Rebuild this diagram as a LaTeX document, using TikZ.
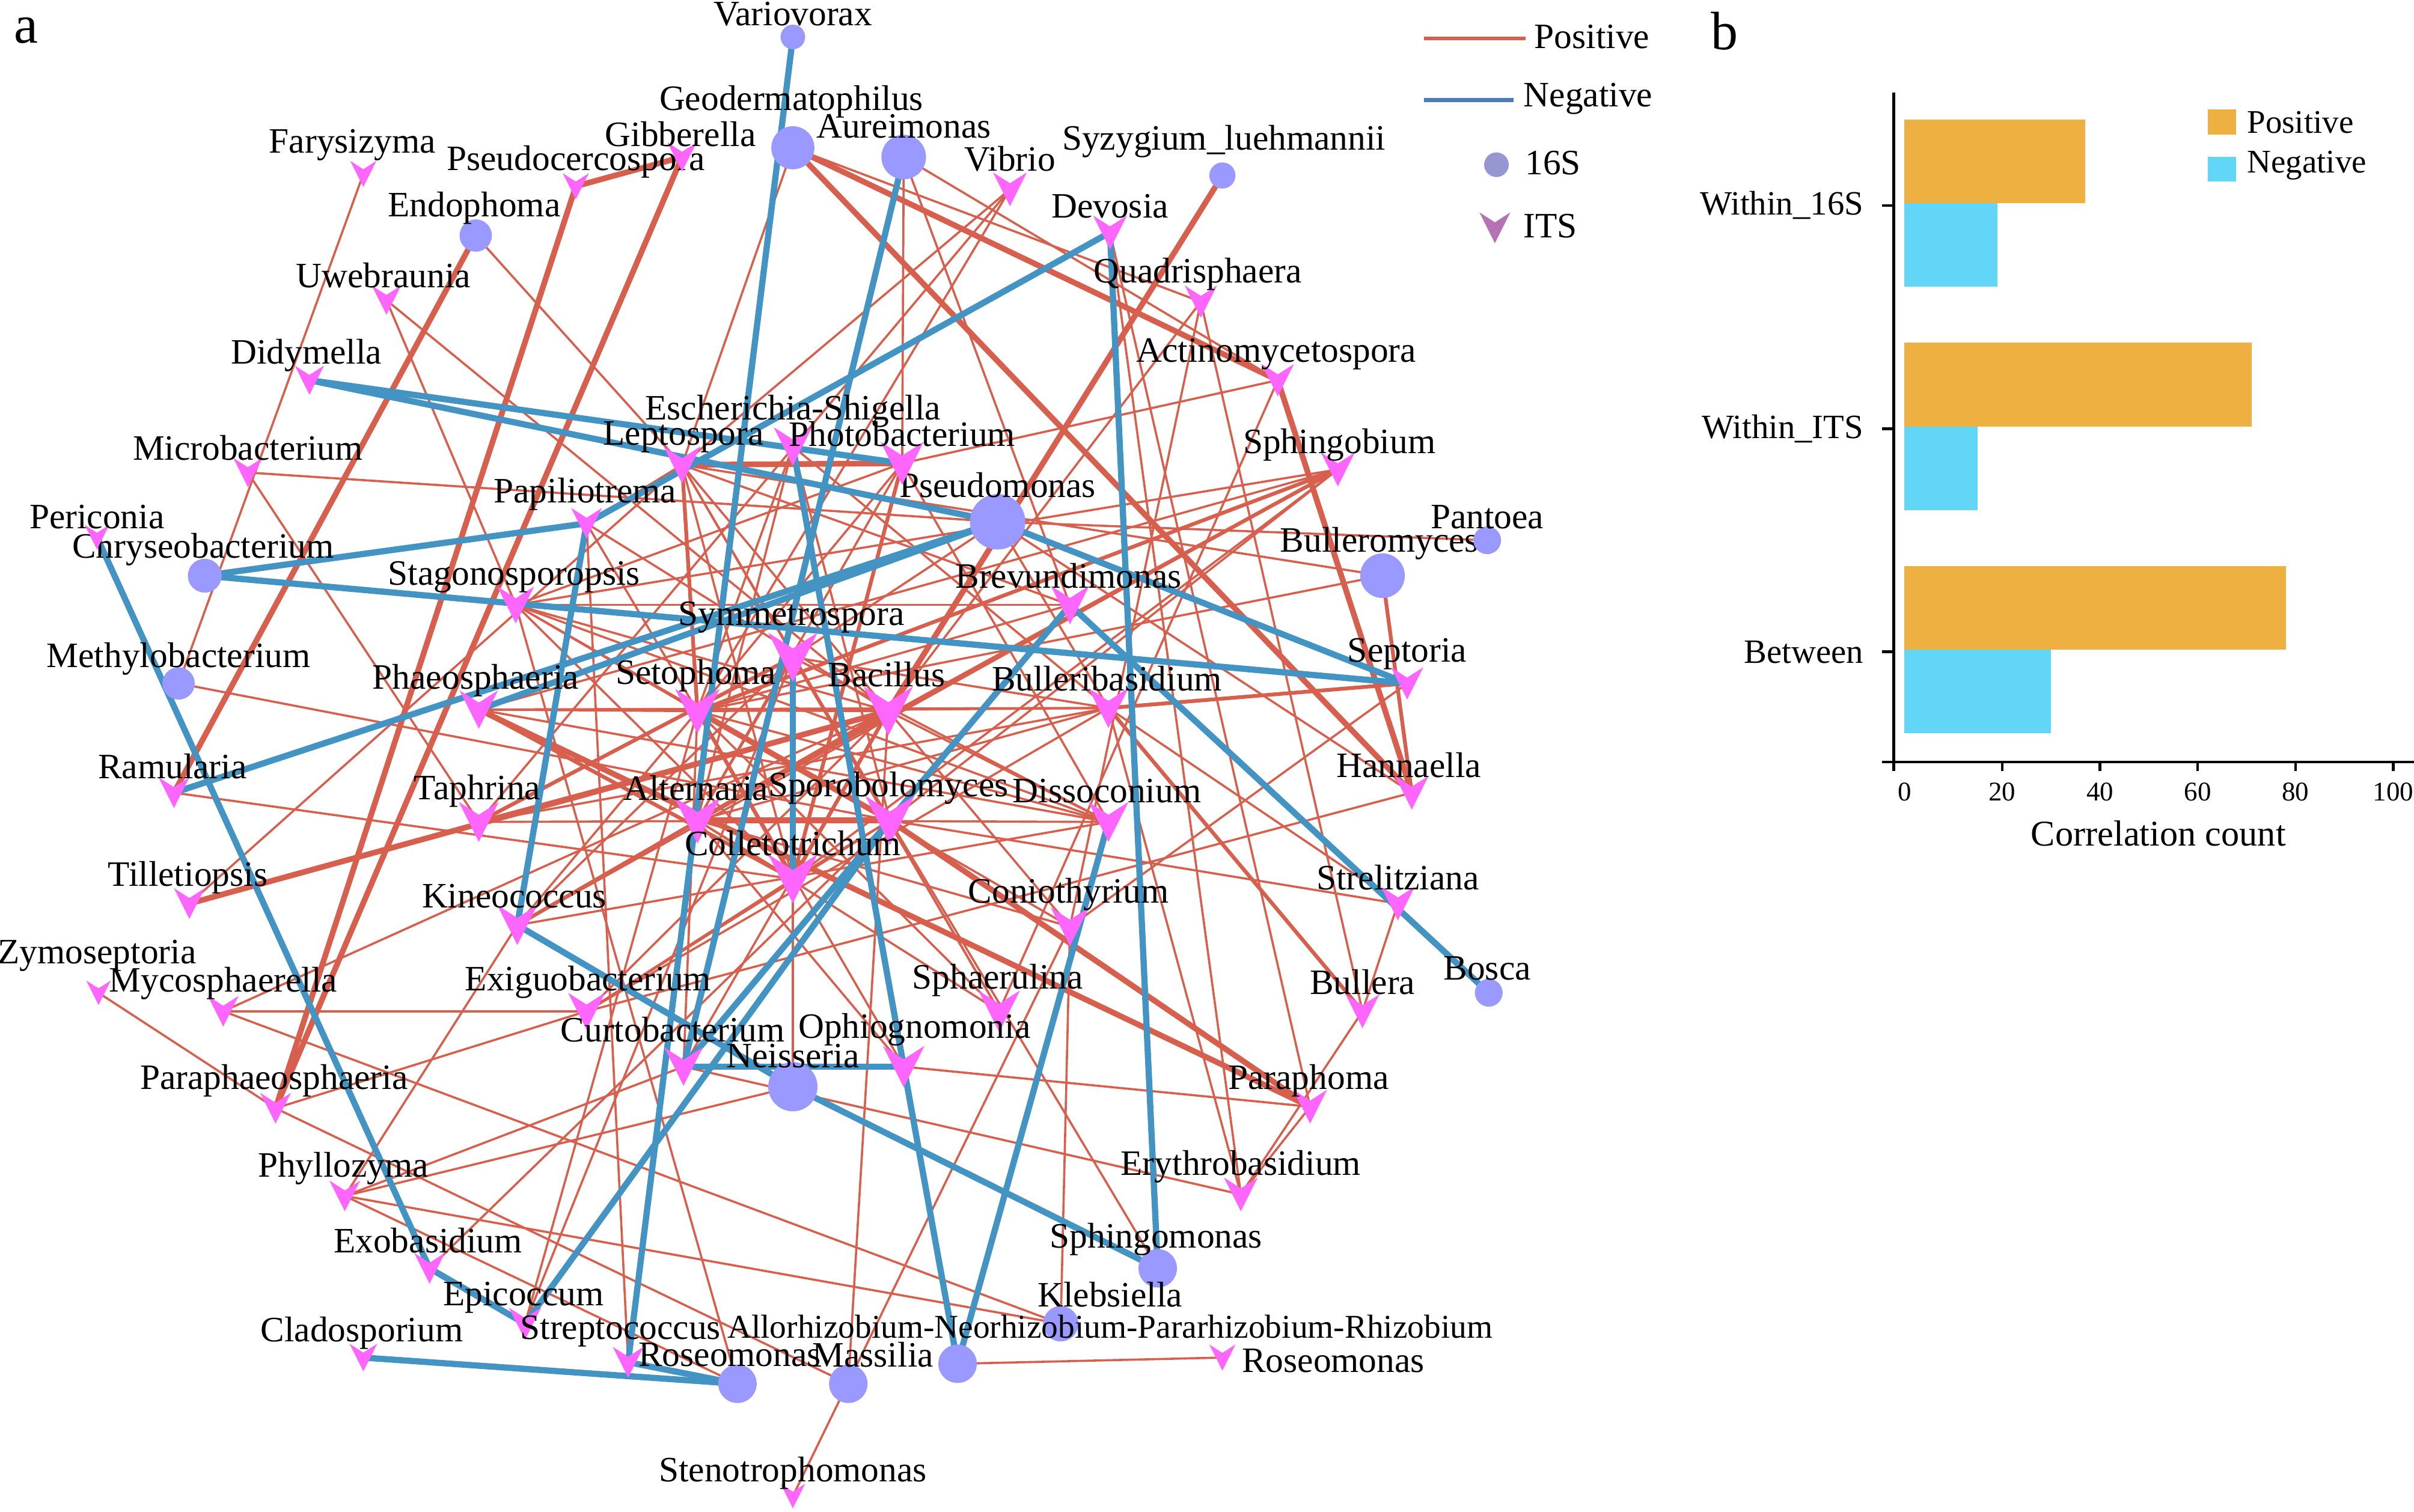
\documentclass[tikz,border=0pt]{standalone}
\usepackage{fontspec}
\setmainfont{Liberation Serif}
\usetikzlibrary{calc}
\definecolor{posred}{RGB}{214,96,77}
\definecolor{negblue}{RGB}{67,147,195}
\definecolor{bacfill}{RGB}{153,153,255}
\definecolor{funpink}{RGB}{255,102,255}
\definecolor{legbac}{RGB}{150,150,210}
\definecolor{legfun}{RGB}{180,115,180}
\definecolor{legneg}{RGB}{74,126,187}
\definecolor{barpos}{RGB}{239,176,66}
\definecolor{barneg}{RGB}{98,214,246}
\pgfdeclarelayer{edges}
\pgfsetlayers{edges,main}
\tikzset{
  vmark/.style 2 args={inner sep=0pt, minimum size={#1*0.1mm}, path picture={
    \fill[#2] (path picture bounding box.north west)
      -- ($(path picture bounding box.north)!0.32!(path picture bounding box.south)$)
      -- (path picture bounding box.north east)
      -- (path picture bounding box.south) -- cycle;}},
  fun/.style={vmark={#1}{funpink}},
  bac/.style={circle, fill=bacfill, inner sep=0pt, minimum size={#1*0.1mm}},
  lab/.style={inner sep=0pt, font=\fontsize{6.6}{7}\selectfont},
  poslink/.style={draw=posred, line width=0.4pt},
  posmid/.style={draw=posred, line width=0.7pt},
  posthick/.style={draw=posred, line width=1.05pt},
  neglink/.style={draw=negblue, line width=1.15pt},
}
\begin{document}
\begin{tikzpicture}[x=0.1mm, y=-0.1mm]
    \useasboundingbox (0,0) rectangle (1568,982);
    \node[font=\fontsize{10}{12}\selectfont] (panel-a) at (17,20) {a};
    \node[font=\fontsize{10}{12}\selectfont] (panel-b) at (1120,20) {b};

    % 16S genera
    \node[bac=16] (Variovorax) at (515,24) {};         \node[lab] (Variovorax-l) at (515,9) {Variovorax};
    \node[bac=28] (Geoder) at (515,96) {};              \node[lab] (Geoder-l) at (514,66) {Geodermatophilus};
    \node[bac=29] (Aureimonas) at (587,102) {};         \node[lab] (Aureimonas-l) at (587,82) {Aureimonas};
    \node[bac=17] (Syzygium) at (794,114) {};           \node[lab] (Syzygium-l) at (795,92) {Syzygium\_luehmannii};
    \node[bac=21] (Endophoma) at (309,153) {};          \node[lab] (Endophoma-l) at (308,135) {Endophoma};
    \node[bac=36] (Pseudomonas) at (648,339) {};        \node[lab] (Pseudomonas-l) at (648,315) {Pseudomonas};
    \node[bac=22] (Chryseo) at (133,374) {};            \node[lab] (Chryseo-l) at (132,357) {Chryseobacterium};
    \node[bac=21] (Methylo) at (116,444) {};            \node[lab] (Methylo-l) at (116,428) {Methylobacterium};
    \node[bac=29] (Bulleromyces) at (898,374) {};       \node[lab] (Bulleromyces-l) at (896,353) {Bulleromyces};
    \node[bac=18] (Pantoea) at (966,351) {};            \node[lab] (Pantoea-l) at (966,336) {Pantoea};
    \node[bac=18] (Bosca) at (967,645) {};              \node[lab] (Bosca-l) at (966,629) {Bosca};
    \node[bac=32] (Neisseria) at (515,706) {};          \node[lab] (Neisseria-l) at (515,686) {Neisseria};
    \node[bac=25] (Sphingomonas) at (752,824) {};       \node[lab] (Sphingomonas-l) at (751,805) {Sphingomonas};
    \node[bac=23] (Klebsiella) at (689,860) {};         \node[lab] (Klebsiella-l) at (721,841) {Klebsiella};
    \node[bac=25] (Allo) at (622,886) {};               \node[lab, font=\fontsize{6.15}{7}\selectfont] (Allo-l) at (721,862) {Allorhizobium-Neorhizobium-Pararhizobium-Rhizobium};
    \node[bac=25] (Massilia) at (551,899) {};           \node[lab] (Massilia-l) at (567,880) {Massilia};
    \node[bac=25] (RoseA) at (479,899) {};              \node[lab] (RoseA-l) at (474,880) {Roseomonas};

    % ITS genera
    \node[fun=17] (Farysizyma) at (236,113) {};         \node[lab] (Farysizyma-l) at (229,94) {Farysizyma};
    \node[fun=17] (Pseudocerc) at (374,121) {};         \node[lab] (Pseudocerc-l) at (374,105) {Pseudocercospora};
    \node[fun=19] (Gibberella) at (443,102) {};         \node[lab] (Gibberella-l) at (442,87) {Gibberella};
    \node[fun=22] (Vibrio) at (656,123) {};             \node[lab] (Vibrio-l) at (656,103) {Vibrio};
    \node[fun=22] (Devosia) at (721,151) {};            \node[lab] (Devosia-l) at (721,134) {Devosia};
    \node[fun=19] (Uwebraunia) at (251,195) {};         \node[lab] (Uwebraunia-l) at (249,179) {Uwebraunia};
    \node[fun=21] (Quadrisphaera) at (780,196) {};      \node[lab] (Quadrisphaera-l) at (778,178) {Quadrisphaera};
    \node[fun=19] (Didymella) at (201,247) {};          \node[lab] (Didymella-l) at (199,231) {Didymella};
    \node[fun=21] (Actino) at (830,247) {};             \node[lab] (Actino-l) at (829,230) {Actinomycetospora};
    \node[fun=25] (Esch) at (515,290) {};               \node[lab] (Esch-l) at (515,267) {Escherichia-Shigella};
    \node[fun=24] (Leptospora) at (443,302) {};         \node[lab] (Leptospora-l) at (444,284) {Leptospora};
    \node[fun=28] (Photobacterium) at (586,301) {};     \node[lab] (Photobacterium-l) at (586,282) {Photobacterium};
    \node[fun=19] (Microbacterium) at (161,307) {};     \node[lab] (Microbacterium-l) at (161,291) {Microbacterium};
    \node[fun=22] (Sphingobium) at (869,305) {};        \node[lab] (Sphingobium-l) at (870,289) {Sphingobium};
    \node[fun=20] (Papiliotrema) at (381,340) {};       \node[lab] (Papiliotrema-l) at (380,321) {Papiliotrema};
    \node[fun=16] (Periconia) at (63,349) {};           \node[lab] (Periconia-l) at (63,336) {Periconia};
    \node[fun=24] (Stagono) at (335,393) {};            \node[lab] (Stagono-l) at (334,375) {Stagonosporopsis};
    \node[fun=25] (Brevundimonas) at (695,393) {};      \node[lab] (Brevundimonas-l) at (694,374) {Brevundimonas};
    \node[fun=32] (Symmetrospora) at (515,427) {};      \node[lab] (Symmetrospora-l) at (514,401) {Symmetrospora};
    \node[fun=29] (Setophoma) at (453,462) {};          \node[lab] (Setophoma-l) at (452,439) {Setophoma};
    \node[fun=32] (Bacillus) at (577,462) {};           \node[lab] (Bacillus-l) at (576,438) {Bacillus};
    \node[fun=26] (Bulleribasidium) at (720,460) {};    \node[lab] (Bulleribasidium-l) at (719,441) {Bulleribasidium};
    \node[fun=25] (Phaeosphaeria) at (311,461) {};      \node[lab] (Phaeosphaeria-l) at (309,442) {Phaeosphaeria};
    \node[fun=21] (Septoria) at (914,444) {};           \node[lab] (Septoria-l) at (914,425) {Septoria};
    \node[fun=20] (Ramularia) at (113,515) {};          \node[lab] (Ramularia-l) at (112,498) {Ramularia};
    \node[fun=22] (Hannaella) at (917,515) {};          \node[lab] (Hannaella-l) at (915,497) {Hannaella};
    \node[fun=26] (Taphrina) at (311,534) {};           \node[lab] (Taphrina-l) at (310,514) {Taphrina};
    \node[fun=30] (Alternaria) at (453,533) {};         \node[lab] (Alternaria-l) at (452,512) {Alternaria};
    \node[fun=32] (Sporobolomyces) at (578,533) {};     \node[lab] (Sporobolomyces-l) at (577,512) {Sporobolomyces};
    \node[fun=26] (Dissoconium) at (720,534) {};        \node[lab] (Dissoconium-l) at (719,514) {Dissoconium};
    \node[fun=32] (Colletotrichum) at (515,571) {};     \node[lab] (Colletotrichum-l) at (515,548) {Colletotrichum};
    \node[fun=20] (Tilletiopsis) at (123,587) {};       \node[lab] (Tilletiopsis-l) at (122,570) {Tilletiopsis};
    \node[fun=22] (Strelitziana) at (908,587) {};       \node[lab] (Strelitziana-l) at (908,570) {Strelitziana};
    \node[fun=26] (Kineococcus) at (336,601) {};        \node[lab] (Kineococcus-l) at (334,582) {Kineococcus};
    \node[fun=25] (Coniothyrium) at (695,602) {};       \node[lab] (Coniothyrium-l) at (694,581) {Coniothyrium};
    \node[fun=16] (Zymoseptoria) at (64,645) {};        \node[lab] (Zymoseptoria-l) at (63,621) {Zymoseptoria};
    \node[fun=20] (Mycosphaerella) at (145,657) {};     \node[lab] (Mycosphaerella-l) at (145,639) {Mycosphaerella};
    \node[fun=24] (Exiguobacterium) at (381,657) {};    \node[lab] (Exiguobacterium-l) at (382,638) {Exiguobacterium};
    \node[fun=27] (Sphaerulina) at (649,657) {};        \node[lab] (Sphaerulina-l) at (648,637) {Sphaerulina};
    \node[fun=22] (Bullera) at (885,657) {};            \node[lab] (Bullera-l) at (885,638) {Bullera};
    \node[fun=25] (Curtobacterium) at (444,693) {};     \node[lab] (Curtobacterium-l) at (437,669) {Curtobacterium};
    \node[fun=27] (Ophiognomonia) at (587,693) {};      \node[lab] (Ophiognomonia-l) at (594,669) {Ophiognomonia};
    \node[fun=20] (Paraphaeo) at (179,720) {};          \node[lab] (Paraphaeo-l) at (178,702) {Paraphaeosphaeria};
    \node[fun=22] (Paraphoma) at (851,719) {};          \node[lab] (Paraphoma-l) at (850,702) {Paraphoma};
    \node[fun=20] (Phyllozyma) at (224,777) {};         \node[lab] (Phyllozyma-l) at (223,759) {Phyllozyma};
    \node[fun=22] (Erythrobasidium) at (806,776) {};    \node[lab] (Erythrobasidium-l) at (806,758) {Erythrobasidium};
    \node[fun=20] (Exobasidium) at (279,824) {};        \node[lab] (Exobasidium-l) at (278,806) {Exobasidium};
    \node[fun=21] (Epicoccum) at (341,860) {};          \node[lab] (Epicoccum-l) at (340,843) {Epicoccum};
    \node[fun=20] (Streptococcus) at (408,885) {};      \node[lab] (Streptococcus-l) at (403,865) {Streptococcus};
    \node[fun=18] (Cladosporium) at (236,882) {};       \node[lab] (Cladosporium-l) at (235,866) {Cladosporium};
    \node[fun=17] (RoseB) at (794,882) {};              \node[lab] (RoseB-l) at (866,884) {Roseomonas};
    \node[fun=16] (Stenotrophomonas) at (515,972) {};   \node[lab] (Stenotrophomonas-l) at (515,957) {Stenotrophomonas};

    % correlations
    \begin{pgfonlayer}{edges}
    \foreach \a/\b in {Geoder/Leptospora, Geoder/Quadrisphaera, Aureimonas/Photobacterium, Aureimonas/Brevundimonas,
        Aureimonas/Actino, Endophoma/Leptospora, Uwebraunia/Stagono, Uwebraunia/Bacillus, Farysizyma/Methylo,
        Microbacterium/Pseudomonas, Microbacterium/Taphrina, Methylo/Sporobolomyces, Ramularia/Colletotrichum,
        Tilletiopsis/Leptospora, Vibrio/Leptospora, Vibrio/Setophoma, Vibrio/Taphrina, Devosia/Paraphoma,
        Devosia/Erythrobasidium, Quadrisphaera/Bacillus, Quadrisphaera/Coniothyrium, Quadrisphaera/Bullera,
        Actino/Photobacterium, Actino/Sphaerulina, Sphingobium/Phaeosphaeria, Sphingobium/Stagono,
        Sphingobium/Colletotrichum, Sphingobium/Kineococcus, Sphingobium/Sporobolomyces, Pantoea/Pseudomonas,
        Bulleromyces/Leptospora, Bulleromyces/Setophoma, Septoria/Coniothyrium, Hannaella/Exiguobacterium,
        Strelitziana/Sporobolomyces, Strelitziana/Bullera, Bullera/Erythrobasidium, Paraphoma/Erythrobasidium,
        Paraphoma/Ophiognomonia, Bulleribasidium/Erythrobasidium, Bulleribasidium/Strelitziana,
        Curtobacterium/Erythrobasidium, Sporobolomyces/Sphingomonas, Phyllozyma/Klebsiella,
        Mycosphaerella/Klebsiella, Coniothyrium/Klebsiella, Allo/RoseB, Stenotrophomonas/Coniothyrium,
        Massilia/Bacillus, Stagono/RoseA, Papiliotrema/Streptococcus, Epicoccum/Setophoma,
        Exobasidium/Sporobolomyces, Phyllozyma/Kineococcus, Phyllozyma/Curtobacterium, Paraphaeo/Exiguobacterium,
        Paraphaeo/Massilia, Zymoseptoria/Paraphaeo, Mycosphaerella/Exiguobacterium, Mycosphaerella/Bacillus,
        Neisseria/Colletotrichum, Neisseria/Phyllozyma, Phyllozyma/RoseA, Epicoccum/Symmetrospora,
        Taphrina/Sporobolomyces, Taphrina/Bulleribasidium, Kineococcus/Setophoma, Kineococcus/Dissoconium,
        Exiguobacterium/Colletotrichum, Exiguobacterium/Bulleribasidium, Exiguobacterium/Sporobolomyces,
        Curtobacterium/Setophoma, Curtobacterium/Bacillus, Ophiognomonia/Setophoma, Ophiognomonia/Alternaria,
        Sphaerulina/Setophoma, Sphaerulina/Alternaria, Sphaerulina/Symmetrospora, Sphaerulina/Leptospora,
        Coniothyrium/Setophoma, Coniothyrium/Alternaria, Coniothyrium/Bacillus, Dissoconium/Setophoma,
        Dissoconium/Alternaria, Dissoconium/Photobacterium, Bulleribasidium/Alternaria,
        Bulleribasidium/Symmetrospora, Bulleribasidium/Esch, Bulleribasidium/Phaeosphaeria,
        Brevundimonas/Setophoma, Brevundimonas/Leptospora, Brevundimonas/Sporobolomyces, Brevundimonas/Stagono,
        Pseudomonas/Symmetrospora, Pseudomonas/Bulleribasidium, Pseudomonas/Hannaella, Photobacterium/Setophoma,
        Photobacterium/Alternaria, Photobacterium/Stagono, Leptospora/Sporobolomyces, Leptospora/Colletotrichum,
        Leptospora/Bacillus, Esch/Setophoma, Esch/Sporobolomyces, Esch/Alternaria, Symmetrospora/Alternaria,
        Symmetrospora/Sporobolomyces, Symmetrospora/Dissoconium, Symmetrospora/Kineococcus,
        Setophoma/Bulleribasidium, Bacillus/Dissoconium, Bacillus/Phaeosphaeria, Bacillus/Exiguobacterium,
        Alternaria/Colletotrichum, Sporobolomyces/Colletotrichum, Stagono/Setophoma, Stagono/Bacillus,
        Stagono/Colletotrichum, Stagono/Dissoconium, Stagono/Sporobolomyces, Phaeosphaeria/Setophoma,
        Phaeosphaeria/Dissoconium, Phaeosphaeria/Bulleribasidium, Papiliotrema/Setophoma, Papiliotrema/Bacillus,
        Papiliotrema/Leptospora}
        \draw[poslink] (\a.center) -- (\b.center);
    \foreach \a/\b in {Bulleribasidium/Septoria, Bacillus/Colletotrichum, Setophoma/Colletotrichum,
        Taphrina/Symmetrospora, Leptospora/Setophoma, Phaeosphaeria/Colletotrichum, Sphingobium/Setophoma,
        Bulleromyces/Hannaella, Alternaria/Bacillus, Photobacterium/Colletotrichum, Taphrina/Bacillus,
        Sphingobium/Alternaria, Kineococcus/Bacillus, Bulleribasidium/Bullera}
        \draw[posmid] (\a.center) -- (\b.center);
    \foreach \a/\b in {Geoder/Actino, Geoder/Hannaella, Actino/Hannaella, Pseudocerc/Paraphaeo,
        Pseudocerc/Gibberella, Gibberella/Paraphaeo, Endophoma/Ramularia, Syzygium/Bacillus, Tilletiopsis/Bacillus,
        Leptospora/Photobacterium, Phaeosphaeria/Paraphoma, Sporobolomyces/Paraphoma, Setophoma/Sporobolomyces,
        Alternaria/Sporobolomyces}
        \draw[posthick] (\a.center) -- (\b.center);
    \foreach \a/\b in {Variovorax/Streptococcus, Aureimonas/Curtobacterium, Brevundimonas/Curtobacterium,
        Curtobacterium/Ophiognomonia, Neisseria/Sphingomonas, Ophiognomonia/Allo, Dissoconium/Allo,
        Devosia/Sphingomonas, Devosia/Papiliotrema, Ramularia/Pseudomonas, Phaeosphaeria/Pseudomonas,
        Didymella/Photobacterium, Didymella/Pseudomonas, Chryseo/Papiliotrema, Chryseo/Septoria,
        Periconia/Exobasidium, Exobasidium/Epicoccum, Cladosporium/RoseA, Streptococcus/RoseA,
        Kineococcus/Papiliotrema, Kineococcus/Neisseria, Epicoccum/Sporobolomyces, Symmetrospora/Colletotrichum,
        Esch/Ophiognomonia, Pseudomonas/Septoria, Brevundimonas/Bosca}
        \draw[neglink] (\a.center) -- (\b.center);
    \end{pgfonlayer}

    % legend of the network
    \coordinate (posA) at (925,25);  \coordinate (posB) at (991,25);
    \coordinate (negA) at (925,65);  \coordinate (negB) at (983,65);
    \draw[posred, line width=0.6pt] (posA) -- (posB);
    \draw[legneg, line width=0.75pt] (negA) -- (negB);
    \node[lab, anchor=west] (leg-pos) at (996,24) {Positive};
    \node[lab, anchor=west] (leg-neg) at (989,64) {Negative};
    \node[bac=16, fill=legbac] (leg-16S) at (972,107) {};
    \node[lab, anchor=west] (leg-16S-l) at (990,106) {16S};
    \node[vmark={20}{legfun}] (leg-ITS) at (971,148) {};
    \node[lab, anchor=west] (leg-ITS-l) at (989,147) {ITS};

    % b: correlation counts
    \foreach \p/\n/\yc/\cat in {37/19/132/Within\_16S, 71/15/277/Within\_ITS, 78/30/422/Between} {
        \fill[barpos] (1237,\yc-54.3) rectangle ({1237+3.175*\p},\yc);
        \fill[barneg] (1237,\yc) rectangle ({1237+3.175*\n},\yc+54.3);
        \draw[line width=0.5pt] (1222.5,\yc+1.5) -- (1230,\yc+1.5);
        \node[anchor=east, inner sep=0pt, font=\fontsize{6.3}{7}\selectfont] (cat\yc) at (1211,\yc+1.5) {\cat};
    }
    \draw[line width=0.6pt] (1230,60) -- (1230,501);
    \draw[line width=0.5pt] (1222.5,495) -- (1568,495);
    \node[inner sep=0pt, font=\fontsize{5}{6}\selectfont] (tick0) at (1237,514.5) {0};
    \foreach \v in {20,40,...,100} {
        \draw[line width=0.5pt] ({1237+3.175*\v},495) -- ({1237+3.175*\v},501);
        \node[inner sep=0pt, font=\fontsize{5}{6}\selectfont] (tick\v) at ({1237+3.175*\v},514.5) {\v};
    }
    \node[inner sep=0pt, font=\fontsize{6.7}{8}\selectfont] (xtitle) at (1402,541.6) {Correlation count};
    \fill[barpos] (1434,71) rectangle (1452.5,87.4);
    \fill[barneg] (1434,102) rectangle (1452.5,118);
    \node[anchor=west, inner sep=0pt, font=\fontsize{6.1}{7}\selectfont] (bleg-pos) at (1459,79.4) {Positive};
    \node[anchor=west, inner sep=0pt, font=\fontsize{6.1}{7}\selectfont] (bleg-neg) at (1459,107.6) {Negative};
\end{tikzpicture}
\end{document}
